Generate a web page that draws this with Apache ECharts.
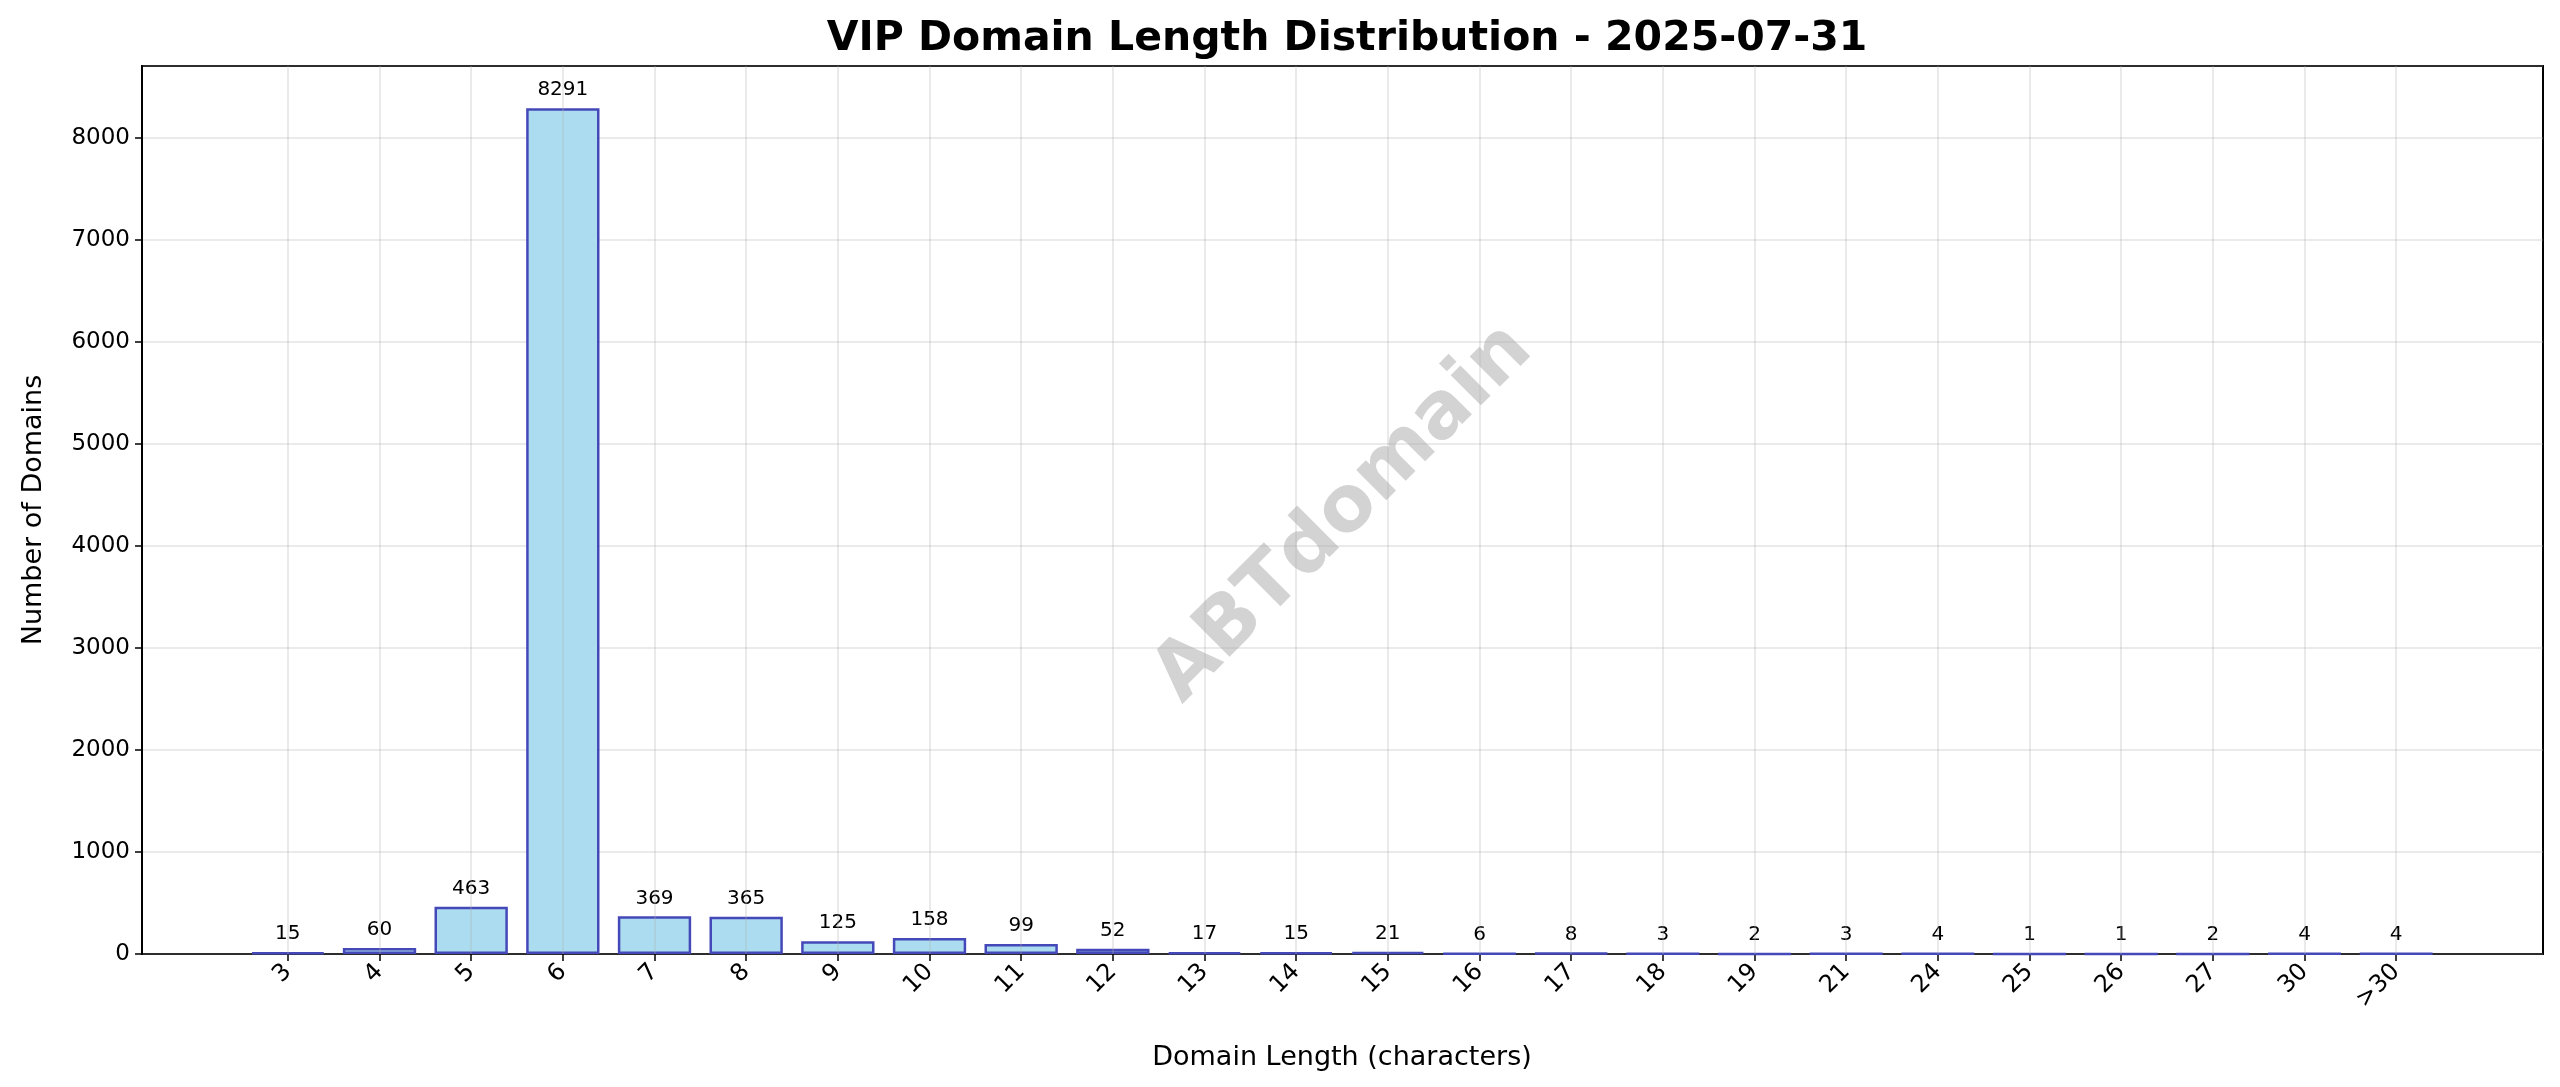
<!DOCTYPE html>
<html>
<head>
<meta charset="utf-8">
<script src="https://cdn.jsdelivr.net/npm/echarts@6/dist/echarts.min.js"></script>
<style>
html, body { margin: 0; padding: 0; background: #fff; }
#main { width: 2560px; height: 1087px; }
</style>
</head>
<body>
<div id="main"></div>
<script>
var categories = ['3', '4', '5', '6', '7', '8', '9', '10', '11', '12', '13', '14', '15', '16', '17', '18', '19', '21', '24', '25', '26', '27', '30', '>30'];
var counts = [15, 60, 463, 8291, 369, 365, 125, 158, 99, 52, 17, 15, 21, 6, 8, 3, 2, 3, 4, 1, 1, 2, 4, 4];
var yTicksMax = 8705;

window.addEventListener('load', function () {
    var myChart = echarts.init(document.getElementById('main'));
    var font = 'DejaVu Sans';
    var option = {
        backgroundColor: '#fff',
        textStyle: { fontFamily: font },
        title: {
            text: 'VIP Domain Length Distribution - 2025-07-31',
            left: 1342,
            top: 14,
            textAlign: 'center',
            textStyle: { fontSize: 41, fontWeight: 'bold', color: '#000', fontFamily: font }
        },
        graphic: [{
            type: 'text',
            left: 1140,
            top: 310,
            rotation: Math.PI / 4,
            style: {
                text: 'ABTdomain',
                fontSize: 78,
                fontWeight: 'bold',
                fontFamily: font,
                fill: 'rgba(128,128,128,0.35)'
            }
        }],
        grid: [
            { left: 142, right: 17, top: 66, bottom: 133, show: true, borderColor: '#000', borderWidth: 2, backgroundColor: 'transparent' },
            { left: 242, right: 118, top: 66, bottom: 133 }
        ],
        xAxis: [
            { gridIndex: 0, type: 'value', min: 0, max: 1, show: false },
            {
                gridIndex: 1, type: 'category', data: categories,
                axisLine: { show: false },
                axisTick: { show: true, alignWithLabel: true, length: 7, lineStyle: { color: '#000', width: 1.5 } },
                axisLabel: { rotate: 45, fontSize: 24, color: '#000', margin: 14 },
                splitLine: { show: false },
                name: 'Domain Length (characters)',
                nameLocation: 'middle',
                nameGap: 90,
                nameTextStyle: { fontSize: 27, color: '#000' }
            }
        ],
        yAxis: [
            {
                gridIndex: 0, type: 'value', min: 0, max: yTicksMax, interval: 1000,
                axisLine: { show: true, lineStyle: { color: '#000', width: 2 } },
                axisTick: { show: true, length: 7, lineStyle: { color: '#000', width: 1.5 } },
                axisLabel: { fontSize: 23, color: '#000', showMaxLabel: false, margin: 12, formatter: function (v) { return String(v); } },
                splitLine: { show: true, lineStyle: { color: 'rgba(176,176,176,0.35)', width: 1.5 } },
                name: 'Number of Domains',
                nameLocation: 'middle',
                nameGap: 95,
                nameTextStyle: { fontSize: 27, color: '#000' }
            },
            { gridIndex: 1, type: 'value', min: 0, max: yTicksMax, show: false }
        ],
        series: [{
            type: 'bar',
            xAxisIndex: 1,
            yAxisIndex: 1,
            data: counts,
            barWidth: '80%',
            itemStyle: { color: '#ABDCEF', borderColor: '#4548B8', borderWidth: 2.5 },
            label: { show: true, position: 'top', distance: 8, fontSize: 20, color: '#000' },
            markLine: {
                silent: true,
                symbol: 'none',
                label: { show: false },
                lineStyle: { color: 'rgba(176,176,176,0.35)', type: 'solid', width: 1.5 },
                data: categories.map(function (c) { return { xAxis: c }; })
            }
        }]
    };
    myChart.setOption(option);
});
</script>
</body>
</html>
